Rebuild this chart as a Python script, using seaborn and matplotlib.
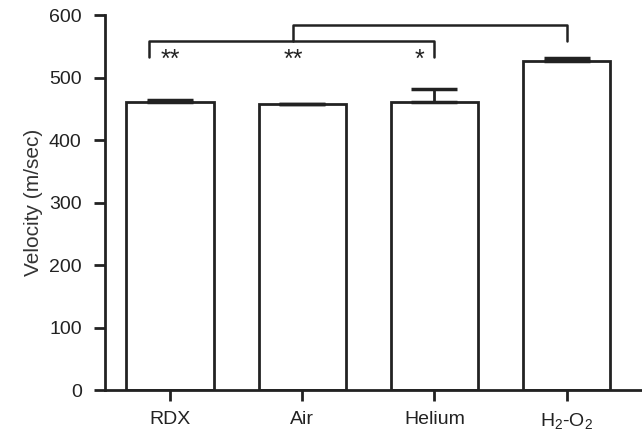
import pandas as pd
import seaborn as sns
import matplotlib.pyplot as plt

groups = ["RDX", "Air", "Helium", "H$_2$-O$_2$"]
velocity = [461, 457, 461, 527]
err = [3, 1, 20, 5]

sns.set_style("ticks")
plt.rcParams['font.family'] = ['Liberation Sans', 'DejaVu Sans']
plt.rcParams['mathtext.fontset'] = 'custom'
plt.rcParams['mathtext.rm'] = 'Liberation Sans'
plt.rcParams['mathtext.it'] = 'Liberation Sans'

df = pd.DataFrame({"group": groups, "velocity": velocity})

fig = plt.figure(figsize=(6.42, 4.32), dpi=100)
ax = fig.add_axes([0.164, 0.097, 0.836, 0.868])
sns.barplot(data=df, x="group", y="velocity", color="white", edgecolor="#222222",
            linewidth=2, width=0.66, errorbar=None, ax=ax)
ax.errorbar(range(len(groups)), velocity, yerr=[[0] * len(err), err], fmt="none",
            ecolor="#222222", elinewidth=2, capsize=16.5, capthick=2.5)

# significance brackets
lw = 1.8
ax.plot([-0.16, -0.16, 2.0, 2.0], [533, 558, 558, 533], color="#222222", lw=lw, clip_on=False)
ax.plot([0.93, 0.93, 3.0, 3.0], [558, 584, 584, 558], color="#222222", lw=lw, clip_on=False)
for xs, s in [(0.0, "**"), (0.93, "**"), (1.89, "*")]:
    ax.text(xs, 517, s, ha="center", va="baseline", fontsize=18, color="#222222")

ax.set_ylim(0, 600)
ax.set_xlim(-0.49, 3.57)
ax.set_yticks([0, 100, 200, 300, 400, 500, 600])
ax.set_xlabel("")
ax.set_ylabel("Velocity (m/sec)", fontsize=15, color="#333333", labelpad=4)
ax.tick_params(axis="both", labelsize=14, width=2, length=8, direction="out", colors="#222222",
               labelcolor="#222222")
ax.tick_params(axis="y", pad=9)
ax.tick_params(axis="x", pad=7)
for sp in ["left", "bottom"]:
    ax.spines[sp].set_linewidth(2)
    ax.spines[sp].set_color("#222222")
sns.despine(ax=ax)

plt.savefig("out.png", dpi=100)
